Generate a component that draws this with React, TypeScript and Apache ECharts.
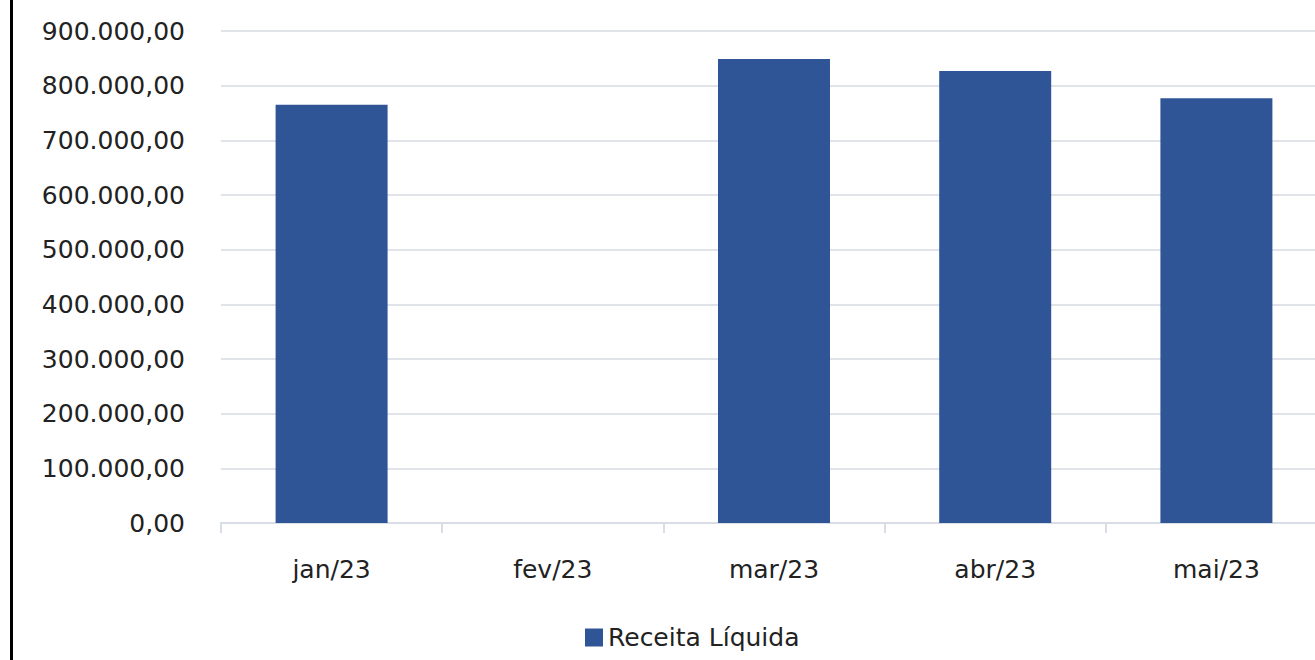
import React, { useEffect, useRef } from "react";
import * as echarts from "echarts";

const categories = ["jan/23", "fev/23", "mar/23", "abr/23", "mai/23"];
const receitaLiquida = [765000, 0, 849000, 827000, 777000];
const seriesName = "Receita Líquida";

const fmt = (v: number) => {
  const s = v.toFixed(2);
  const [intPart, dec] = s.split(".");
  const withDots = intPart.replace(/\B(?=(\d{3})+(?!\d))/g, ".");
  return withDots + "," + dec;
};

export default function App() {
  const ref = useRef<HTMLDivElement>(null);
  useEffect(() => {
    if (!ref.current) return;
    const chart = echarts.init(ref.current, undefined, { renderer: "svg" });
    const font = "'DejaVu Sans', sans-serif";
    chart.setOption({
      animation: false,
      backgroundColor: "#ffffff",
      textStyle: { fontFamily: font },
      grid: { left: 221, top: 31, width: 1106, height: 492, containLabel: false },
      legend: {
        data: [seriesName],
        bottom: 5,
        left: 580,
        itemWidth: 18,
        itemHeight: 18,
        itemGap: 8,
        icon: "rect",
        textStyle: { fontSize: 25, color: "#222", fontFamily: font },
      },
      xAxis: {
        type: "category",
        data: categories,
        axisLine: { lineStyle: { color: "#d9dde5", width: 2 } },
        axisTick: { show: true, length: 10, lineStyle: { color: "#d9dde5", width: 2 } },
        axisLabel: { fontSize: 25, color: "#222", margin: 34, fontFamily: font },
      },
      yAxis: {
        type: "value",
        min: 0,
        max: 900000,
        interval: 100000,
        axisLine: { show: false },
        axisTick: { show: false },
        splitLine: { lineStyle: { color: "#e0e3ea", width: 2 } },
        axisLabel: {
          fontSize: 25,
          color: "#222",
          margin: 36,
          fontFamily: font,
          formatter: (v: number) => fmt(v),
        },
      },
      series: [
        {
          name: seriesName,
          type: "bar",
          data: receitaLiquida,
          barWidth: 112,
          itemStyle: { color: "#2f5597" },
        },
      ],
      graphic: [
        {
          type: "rect",
          shape: { x: 10, y: 0, width: 3, height: 660 },
          style: { fill: "#000" },
          z: 100,
        },
      ],
    });
    return () => chart.dispose();
  }, []);
  return (
    <div
      style={{
        position: "fixed",
        left: 0,
        top: 0,
        width: 1315,
        height: 660,
        overflow: "hidden",
        background: "#fff",
      }}
    >
      <div ref={ref} style={{ width: 1340, height: 660 }} />
    </div>
  );
}
